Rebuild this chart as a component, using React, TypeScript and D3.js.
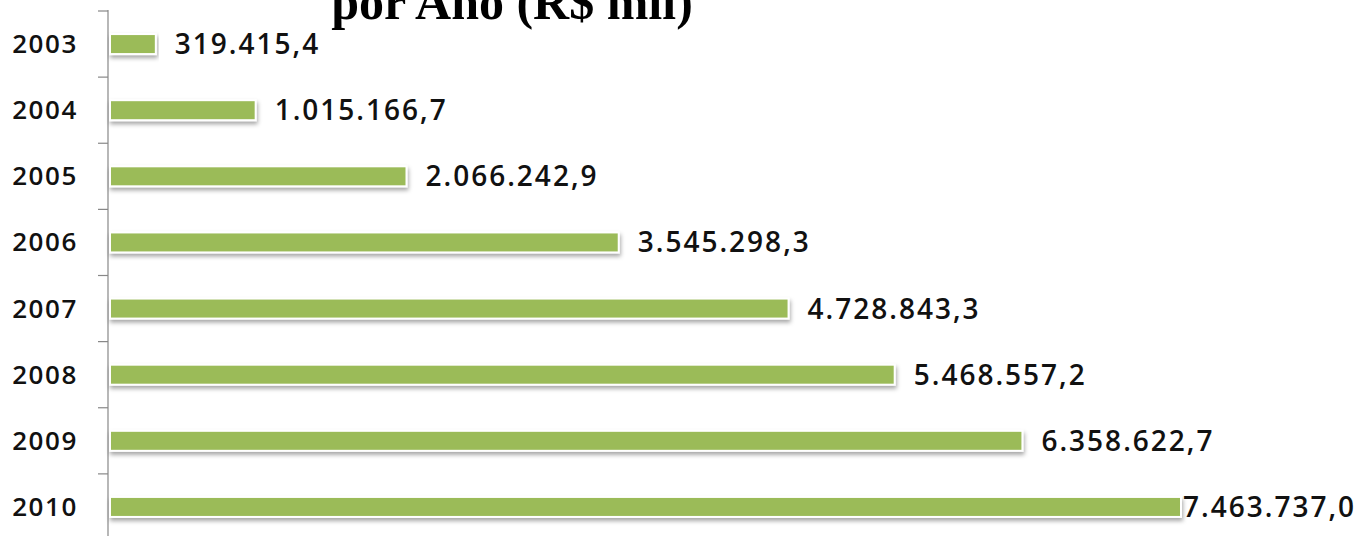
import { useEffect, useRef } from "react";
import * as d3 from "d3";

// data
const years = ["2003", "2004", "2005", "2006", "2007", "2008", "2009", "2010"];
const values = [319415.4, 1015166.7, 2066242.9, 3545298.3, 4728843.3, 5468557.2, 6358622.7, 7463737.0];
const titleText = "por Ano (R$ mil)";

const W = 1364;
const H = 536;

const fmt = (v: number) => {
	const [int, dec] = v.toFixed(1).split(".");
	return int.replace(/\B(?=(\d{3})+(?!\d))/g, ".") + "," + dec;
};

export default function App() {
	const ref = useRef<SVGSVGElement>(null);

	useEffect(() => {
		const svg = d3.select(ref.current);
		svg.selectAll("*").remove();

		const axisX = 108;
		const x = d3.scaleLinear().domain([0, 7463737]).range([axisX + 2, 1181]);
		const y = d3.scaleBand().domain(years).range([11, 540]).padding(0);

		const defs = svg.append("defs");
		const f = defs
			.append("filter")
			.attr("id", "shadow")
			.attr("x", "-5%")
			.attr("y", "-50%")
			.attr("width", "110%")
			.attr("height", "220%");
		f.append("feDropShadow")
			.attr("dx", 1)
			.attr("dy", 3)
			.attr("stdDeviation", 2)
			.attr("flood-color", "#000")
			.attr("flood-opacity", 0.35);

		// title (second line, top cut off as in the source image)
		svg
			.append("text")
			.attr("x", 512)
			.attr("y", 19)
			.attr("text-anchor", "middle")
			.attr("font-family", "'Liberation Serif', 'Times New Roman', serif")
			.attr("font-weight", "bold")
			.attr("font-size", 50)
			.attr("fill", "#000")
			.text(titleText);

		// axis line and ticks
		svg
			.append("line")
			.attr("x1", axisX)
			.attr("x2", axisX)
			.attr("y1", 10)
			.attr("y2", H)
			.attr("stroke", "#888")
			.attr("stroke-width", 1.2);

		svg
			.selectAll("line.tick")
			.data(years)
			.enter()
			.append("line")
			.attr("class", "tick")
			.attr("x1", axisX - 10)
			.attr("x2", axisX)
			.attr("y1", (d) => y(d)!)
			.attr("y2", (d) => y(d)!)
			.attr("stroke", "#888")
			.attr("stroke-width", 1.2);

		const barH = 20;
		const rows = years.map((yr, i) => ({ yr, v: values[i] }));

		// bars
		svg
			.selectAll("rect.bar")
			.data(rows)
			.enter()
			.append("rect")
			.attr("class", "bar")
			.attr("x", x(0))
			.attr("y", (d) => y(d.yr)! + y.bandwidth() / 2 - barH / 2)
			.attr("width", (d) => x(d.v) - x(0))
			.attr("height", barH)
			.attr("fill", "#9BBB59")
			.attr("stroke", "#fff")
			.attr("stroke-width", 2)
			.attr("filter", "url(#shadow)");

		// year labels
		svg
			.selectAll("text.year")
			.data(rows)
			.enter()
			.append("text")
			.attr("class", "year")
			.attr("x", 78)
			.attr("y", (d) => y(d.yr)! + y.bandwidth() / 2 + 9)
			.attr("text-anchor", "end")
			.attr("font-family", "'Open Sans', sans-serif")
			.attr("font-weight", 600)
			.attr("font-size", 26)
			.attr("letter-spacing", 1.6)
			.attr("fill", "#111")
			.text((d) => d.yr);

		// value labels
		svg
			.selectAll("text.val")
			.data(rows)
			.enter()
			.append("text")
			.attr("class", "val")
			.attr("x", (d) => Math.min(x(d.v) + 19, 1183))
			.attr("y", (d) => y(d.yr)! + y.bandwidth() / 2 + 10)
			.attr("font-family", "'Open Sans', sans-serif")
			.attr("font-weight", 600)
			.attr("font-size", 28)
			.attr("letter-spacing", 2)
			.attr("fill", "#111")
			.text((d) => fmt(d.v));
	}, []);

	return (
		<svg
			ref={ref}
			width={W}
			height={H}
			style={{ position: "absolute", left: 0, top: 0, background: "#fff" }}
		/>
	);
}
